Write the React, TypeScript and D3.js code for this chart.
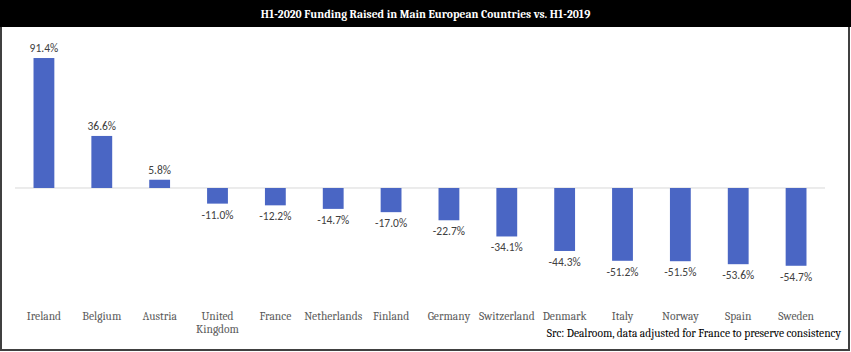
import * as d3 from "d3";
import { useEffect, useRef } from "react";

// H1-2020 vs H1-2019 funding change, in %
const countries = [
  "Ireland", "Belgium", "Austria", "United Kingdom", "France", "Netherlands", "Finland",
  "Germany", "Switzerland", "Denmark", "Italy", "Norway", "Spain", "Sweden",
];
const changes = [91.4, 36.6, 5.8, -11.0, -12.2, -14.7, -17.0, -22.7, -34.1, -44.3, -51.2, -51.5, -53.6, -54.7];

const title = "H1-2020 Funding Raised in Main European Countries vs. H1-2019";
const source = "Src: Dealroom, data adjusted for France to preserve consistency";

export default function App() {
  const ref = useRef<SVGSVGElement>(null);

  useEffect(() => {
    const width = 851;
    const height = 352;
    const serif = "Cambria, 'Liberation Serif', serif";
    const sans = "Calibri, 'Liberation Sans', sans-serif";

    const svg = d3.select(ref.current)
      .attr("width", width)
      .attr("height", height);
    svg.selectAll("*").remove();

    // frame + title bar
    svg.append("rect")
      .attr("x", 1).attr("y", 1).attr("width", width - 3).attr("height", height - 3)
      .attr("fill", "#fff").attr("stroke", "#404040").attr("stroke-width", 2);
    svg.append("rect")
      .attr("x", 0).attr("y", 0).attr("width", width).attr("height", 27)
      .attr("fill", "#000");
    svg.append("text")
      .attr("x", width / 2).attr("y", 18)
      .attr("text-anchor", "middle")
      .attr("fill", "#fff")
      .style("font-family", serif)
      .style("font-size", "11.5px")
      .style("font-weight", "bold")
      .text(title);

    const x = d3.scaleBand().domain(countries).range([15, 825]).paddingInner(0.64).paddingOuter(0.32);
    const y = d3.scaleLinear().domain([-60, 100]).range([273.3, 45.8]);

    // zero line
    svg.append("line")
      .attr("x1", 15).attr("x2", 825)
      .attr("y1", y(0)).attr("y2", y(0))
      .attr("stroke", "#d9d9d9").attr("stroke-width", 1);

    const bars = svg.append("g");
    bars.selectAll("rect")
      .data(changes)
      .join("rect")
      .attr("x", (_, i) => x(countries[i])!)
      .attr("width", x.bandwidth())
      .attr("y", d => y(Math.max(0, d)))
      .attr("height", d => Math.abs(y(d) - y(0)))
      .attr("fill", "#4a66c4");

    bars.selectAll("text")
      .data(changes)
      .join("text")
      .attr("x", (_, i) => x(countries[i])! + x.bandwidth() / 2)
      .attr("y", d => d >= 0 ? y(d) - 6 : y(d) + 15)
      .attr("text-anchor", "middle")
      .attr("fill", "#404040")
      .style("font-family", sans)
      .style("font-size", "11.5px")
      .text(d => d.toFixed(1) + "%");

    // category labels, wrapped on space for the long one
    const cats = svg.append("g");
    countries.forEach(c => {
      const lines = c === "United Kingdom" ? ["United", "Kingdom"] : [c];
      const t = cats.append("text")
        .attr("text-anchor", "middle")
        .attr("fill", "#595959")
        .style("font-family", serif)
        .style("font-size", "11.5px");
      lines.forEach((l, j) => {
        t.append("tspan")
          .attr("x", x(c)! + x.bandwidth() / 2)
          .attr("y", 320 + j * 12.5)
          .text(l);
      });
    });

    svg.append("text")
      .attr("x", 841).attr("y", 337)
      .attr("text-anchor", "end")
      .attr("fill", "#000")
      .style("font-family", serif)
      .style("font-size", "11.5px")
      .text(source);
  }, []);

  return (
    <div style={{ position: "absolute", left: 0, top: 0 }}>
      <svg ref={ref}></svg>
    </div>
  );
}
